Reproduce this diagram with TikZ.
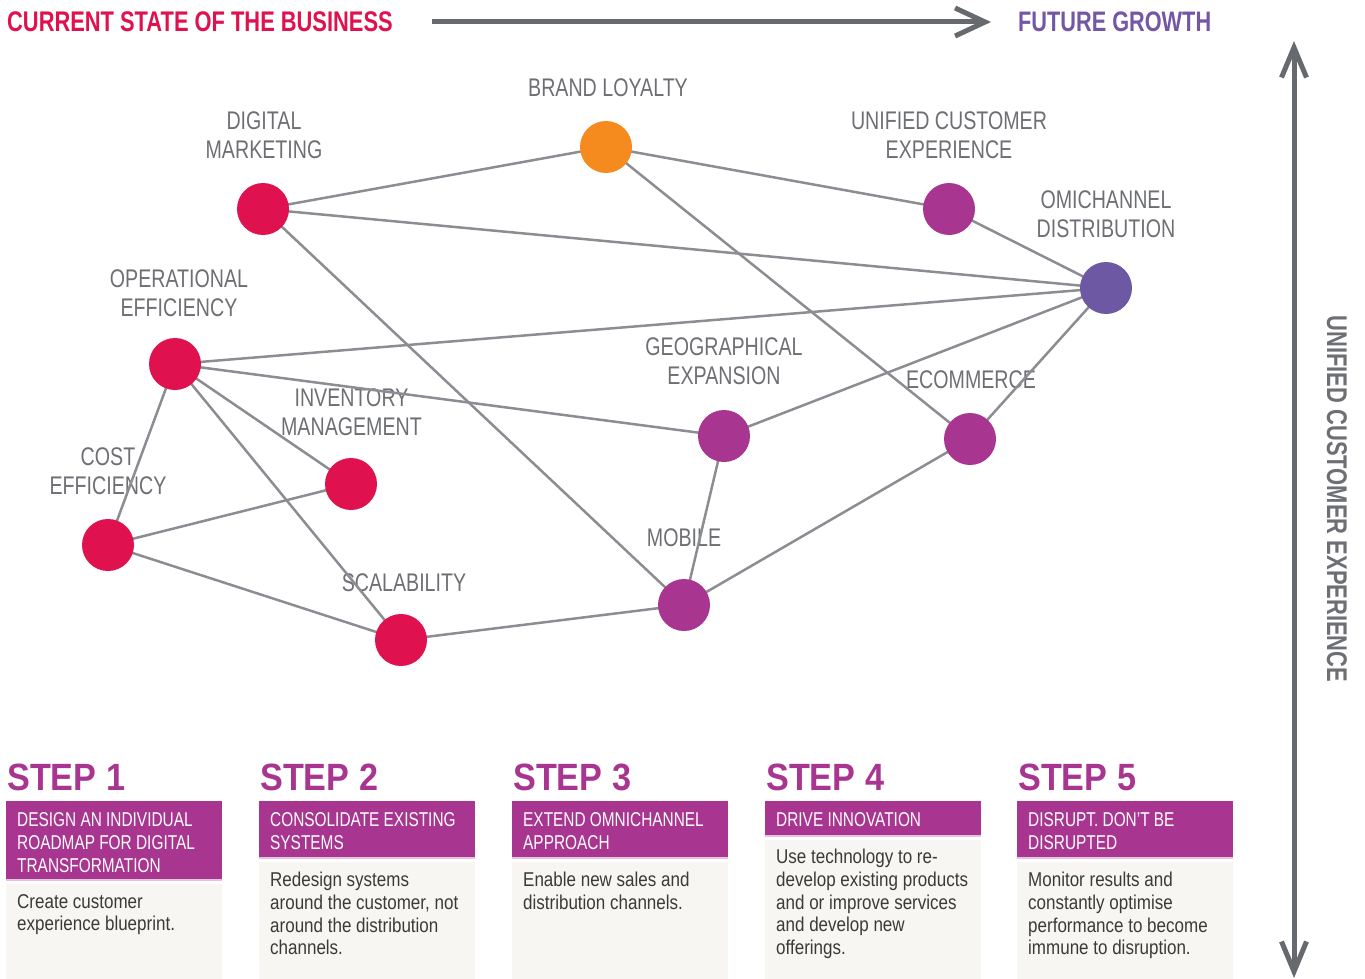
\documentclass[tikz,border=0pt]{standalone}
\usepackage{fontspec}
\setmainfont{Liberation Sans}[FakeStretch=0.77]
\newfontfamily\stepfont{Liberation Sans}[FakeStretch=0.9]
\newfontfamily\bodyfont{Liberation Sans}[FakeStretch=0.85]
\usetikzlibrary{arrows.meta}

\definecolor{hotred}{HTML}{E0114F}
\definecolor{brandorange}{HTML}{F58B1F}
\definecolor{plum}{HTML}{A83590}
\definecolor{violet}{HTML}{6D58A4}
\definecolor{edgegrey}{HTML}{8C8D92}
\definecolor{labelgrey}{HTML}{6E6F74}
\definecolor{arrowgrey}{HTML}{66696E}
\definecolor{panelbg}{HTML}{F7F6F2}
\definecolor{bodytext}{HTML}{3A3A3A}
\definecolor{futureviolet}{HTML}{7356A6}

\pgfdeclarelayer{labels}
\pgfdeclarelayer{edges}
\pgfsetlayers{labels,edges,main}

\tikzset{
  dot/.style={circle, fill=#1, minimum size=52pt, inner sep=0pt},
  tag/.style={anchor=north, inner sep=0pt, align=center, text=labelgrey,
    font=\fontsize{25.5}{29}\selectfont},
  link/.style={draw=edgegrey, line width=2.5pt},
  axis/.style={draw=arrowgrey, line width=5pt},
  steptitle/.style={anchor=base west, inner sep=0pt, text=plum,
    font=\stepfont\bfseries\fontsize{38}{40}\selectfont},
  headtext/.style={anchor=north west, inner sep=0pt, align=left, text=white,
    font=\fontsize{20}{23}\selectfont},
  bodytxt/.style={anchor=north west, inner sep=0pt, align=left, text=bodytext,
    font=\bodyfont\fontsize{20}{22.7}\selectfont},
}

\begin{document}
\begin{tikzpicture}[x=1pt, y=-1pt]
\useasboundingbox (0,0) rectangle (1365,979);

% headline and growth axis
\node[anchor=base west, inner sep=0pt, text=hotred,
  font=\bfseries\fontsize{28.4}{30}\selectfont] (cur) at (7,32) {CURRENT STATE OF THE BUSINESS};
\node[anchor=base west, inner sep=0pt, text=futureviolet,
  font=\bfseries\fontsize{28.2}{30}\selectfont] (fut) at (1018,32) {FUTURE GROWTH};
\coordinate (hstart) at (432,22);
\coordinate (hend) at (991,22);
\draw[axis, -{Straight Barb[length=30pt,width=28pt]}] (hstart) -- (hend);

% vertical axis
\coordinate (vtop) at (1294,41);
\coordinate (vbot) at (1294,978);
\draw[axis, {Straight Barb[length=30pt,width=25pt]}-{Straight Barb[length=30pt,width=25pt]}] (vtop) -- (vbot);
\node[rotate=-90, inner sep=0pt, text=labelgrey,
  font=\bfseries\fontsize{28.5}{30}\selectfont] (uce-axis) at (1337,499) {UNIFIED CUSTOMER EXPERIENCE};

% network nodes
\node[dot=hotred] (dm) at (263,209) {};
\node[dot=brandorange] (bl) at (606,147) {};
\node[dot=plum] (uce) at (949,209) {};
\node[dot=violet] (omni) at (1106,288) {};
\node[dot=hotred] (oe) at (175,364) {};
\node[dot=hotred] (inv) at (351,484) {};
\node[dot=hotred] (cost) at (108,545) {};
\node[dot=hotred] (scal) at (401,640) {};
\node[dot=plum] (geo) at (724,436) {};
\node[dot=plum] (ecom) at (970,439) {};
\node[dot=plum] (mob) at (684,605) {};

% node captions
\begin{pgfonlayer}{labels}
\node[tag] (dm-t) at (264,111) {DIGITAL\\MARKETING};
\node[tag] (bl-t) at (608,78.4) {BRAND LOYALTY};
\node[tag] (uce-t) at (949,111.7) {UNIFIED CUSTOMER\\EXPERIENCE};
\node[tag] (omni-t) at (1106,190) {OMICHANNEL\\DISTRIBUTION};
\node[tag] (oe-t) at (179,269) {OPERATIONAL\\EFFICIENCY};
\node[tag] (inv-t) at (351.5,388.4) {INVENTORY\\MANAGEMENT};
\node[tag] (cost-t) at (108,447.7) {COST\\EFFICIENCY};
\node[tag] (scal-t) at (404,573.4) {SCALABILITY};
\node[tag] (geo-t) at (724,337.7) {GEOGRAPHICAL\\EXPANSION};
\node[tag] (ecom-t) at (971,370) {ECOMMERCE};
\node[tag] (mob-t) at (684,528.4) {MOBILE};
\end{pgfonlayer}

% connections
\begin{pgfonlayer}{edges}
\draw[link] (dm.center) -- (bl.center);
\draw[link] (dm.center) -- (omni.center);
\draw[link] (dm.center) -- (mob.center);
\draw[link] (bl.center) -- (uce.center);
\draw[link] (bl.center) -- (ecom.center);
\draw[link] (uce.center) -- (omni.center);
\draw[link] (oe.center) -- (omni.center);
\draw[link] (oe.center) -- (geo.center);
\draw[link] (oe.center) -- (inv.center);
\draw[link] (oe.center) -- (scal.center);
\draw[link] (oe.center) -- (cost.center);
\draw[link] (cost.center) -- (inv.center);
\draw[link] (cost.center) -- (scal.center);
\draw[link] (scal.center) -- (mob.center);
\draw[link] (mob.center) -- (geo.center);
\draw[link] (mob.center) -- (ecom.center);
\draw[link] (geo.center) -- (omni.center);
\draw[link] (ecom.center) -- (omni.center);
\end{pgfonlayer}

% step panels: header band, thin rule, body
\foreach \x/\hb in {6/879, 259/857, 512/857, 765/835, 1017/857} {
  \fill[plum] (\x,801) rectangle (\x+216,\hb);
  \fill[plum!30] (\x,\hb) rectangle (\x+216,\hb+1.5);
  \fill[panelbg] (\x,\hb+5) rectangle (\x+216,979);
}

\node[steptitle] (s1) at (7,790) {STEP 1};
\node[steptitle] (s2) at (260,790) {STEP 2};
\node[steptitle] (s3) at (513,790) {STEP 3};
\node[steptitle] (s4) at (766,790) {STEP 4};
\node[steptitle] (s5) at (1018,790) {STEP 5};

\node[headtext] (h1) at (17,812) {DESIGN AN INDIVIDUAL\\ROADMAP FOR DIGITAL\\TRANSFORMATION};
\node[headtext] (h2) at (270,812) {CONSOLIDATE EXISTING\\SYSTEMS};
\node[headtext] (h3) at (523,812) {EXTEND OMNICHANNEL\\APPROACH};
\node[headtext] (h4) at (776,812) {DRIVE INNOVATION};
\node[headtext] (h5) at (1028,812) {DISRUPT. DON’T BE\\DISRUPTED};

\node[bodytxt] (b1) at (17,894) {Create customer\\experience blueprint.};
\node[bodytxt] (b2) at (270,872) {Redesign systems\\around the customer, not\\around the distribution\\channels.};
\node[bodytxt] (b3) at (523,872) {Enable new sales and\\distribution channels.};
\node[bodytxt] (b4) at (776,849) {Use technology to re-\\develop existing products\\and or improve services\\and develop new\\offerings.};
\node[bodytxt] (b5) at (1028,872) {Monitor results and\\constantly optimise\\performance to become\\immune to disruption.};
\end{tikzpicture}
\end{document}
